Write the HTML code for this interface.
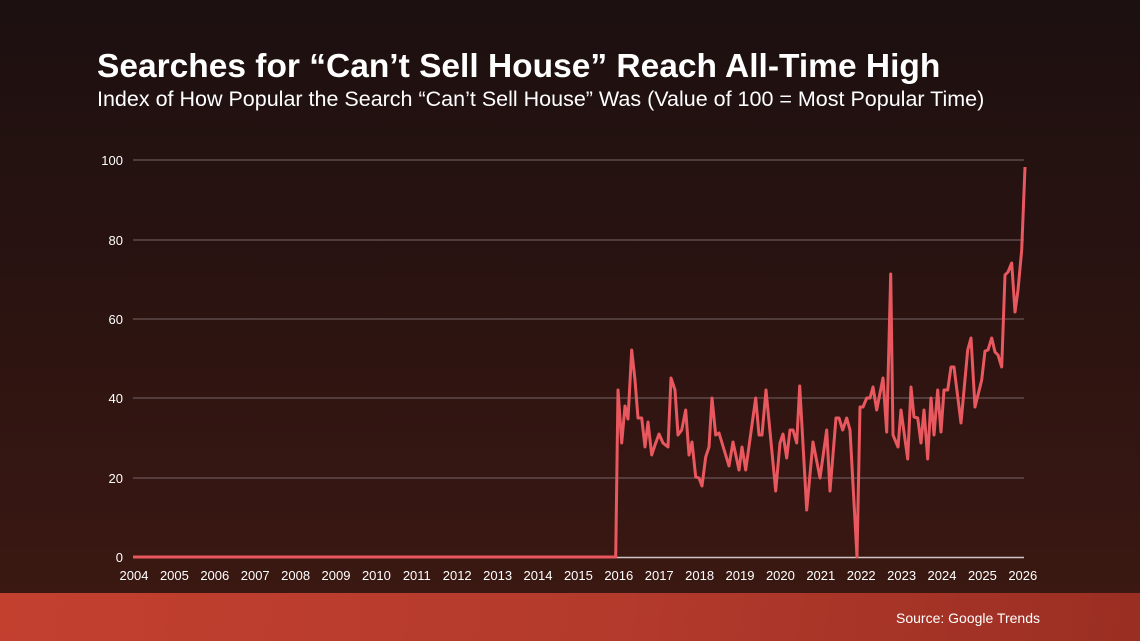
<!DOCTYPE html>
<html><head><meta charset="utf-8"><style>
html,body{margin:0;padding:0}
body{width:1140px;height:641px;overflow:hidden;position:relative;font-family:"Liberation Sans",Arial,sans-serif;background:linear-gradient(180deg,#1c1010 0%,#2a1311 45%,#3b1812 92%);}
.t{position:absolute;left:97px;top:48px;font-size:33.5px;line-height:38px;font-weight:bold;color:#fff;white-space:nowrap}
.s{position:absolute;left:97px;top:87px;font-size:21.5px;line-height:25px;color:#fff;white-space:nowrap}
.f{position:absolute;left:0;top:593px;width:1140px;height:48px;background:linear-gradient(100deg,#c3402f 0%,#b33a2c 55%,#9a2e22 100%)}
.f span{position:absolute;right:100px;top:17px;color:#fff;font-size:14px}
</style></head><body>
<div class="t">Searches for “Can’t Sell House” Reach All-Time High</div>
<div class="s">Index of How Popular the Search “Can’t Sell House” Was (Value of 100 = Most Popular Time)</div>
<svg width="1140" height="641" style="position:absolute;left:0;top:0" font-family="Liberation Sans, Arial, sans-serif">
<g stroke="#5e4a4a" stroke-width="1.5">
<line x1="133" x2="1024" y1="160" y2="160"/><line x1="133" x2="1024" y1="240" y2="240"/><line x1="133" x2="1024" y1="319" y2="319"/><line x1="133" x2="1024" y1="398" y2="398"/><line x1="133" x2="1024" y1="478" y2="478"/>
</g>
<line x1="133" x2="1024" y1="557.5" y2="557.5" stroke="#cfc5c5" stroke-width="1.5"/>
<g fill="#fff" font-size="13" text-anchor="end">
<text x="123" y="165">100</text><text x="123" y="245">80</text><text x="123" y="324">60</text><text x="123" y="403">40</text><text x="123" y="483">20</text><text x="123" y="562">0</text>
</g>
<g fill="#fff" font-size="13" text-anchor="middle">
<text x="134" y="580">2004</text><text x="174.4" y="580">2005</text><text x="214.8" y="580">2006</text><text x="255.2" y="580">2007</text><text x="295.6" y="580">2008</text><text x="336" y="580">2009</text><text x="376.4" y="580">2010</text><text x="416.8" y="580">2011</text><text x="457.2" y="580">2012</text><text x="497.6" y="580">2013</text><text x="538" y="580">2014</text><text x="578.4" y="580">2015</text><text x="618.8" y="580">2016</text><text x="659.2" y="580">2017</text><text x="699.6" y="580">2018</text><text x="740" y="580">2019</text><text x="780.4" y="580">2020</text><text x="820.8" y="580">2021</text><text x="861.2" y="580">2022</text><text x="901.6" y="580">2023</text><text x="942" y="580">2024</text><text x="982.4" y="580">2025</text><text x="1022.8" y="580">2026</text>
</g>
<polyline fill="none" stroke="#e8585e" stroke-width="3" stroke-linejoin="round" points="133,557 615.7,557 618,390 621.7,443 625,406 628,419 631.7,350 635,380 638,418 641.7,418 645,447 648,422 651.7,455 655,445 659,434 663,443 668,447 671,378 675,390 678,435 681.7,430 685.7,410 689,455 692,442 695.7,477 699,478 702,486 705.7,457 709,447 712,398 715.7,435 719,433 729,466 733,442 739,470 742,447 745.7,470 755.7,398 759,435 762,435 766,390 775.7,491 780,443 783,434 786.7,458 790,430 793,430 796.7,443 799.7,386 806.7,510 813,442 820,478 826.7,430 830,491 836,418 839,418 842.7,430 846.7,418 850,430 857,557 860,407 863,407 866.7,398 870,398 873,387 876.7,410 883,378 886.7,432 890.7,274 893,435 898,447 901,410 907.7,459 911,387 914,417 917.7,418 921,443 924,410 927.7,459 931,398 934,435 937.7,390 941,432 944,390 947.7,390 951,367 954,367 961,423 967.7,350 971,338 975,407 981.7,380 985,351 988,350 991.7,338 995,352 998,355 1001.7,367 1005,275 1008,272 1011.7,263 1015,312 1018,290 1021.7,250 1025,167"/>
</svg>
<div class="f"><span>Source: Google Trends</span></div>
</body></html>
